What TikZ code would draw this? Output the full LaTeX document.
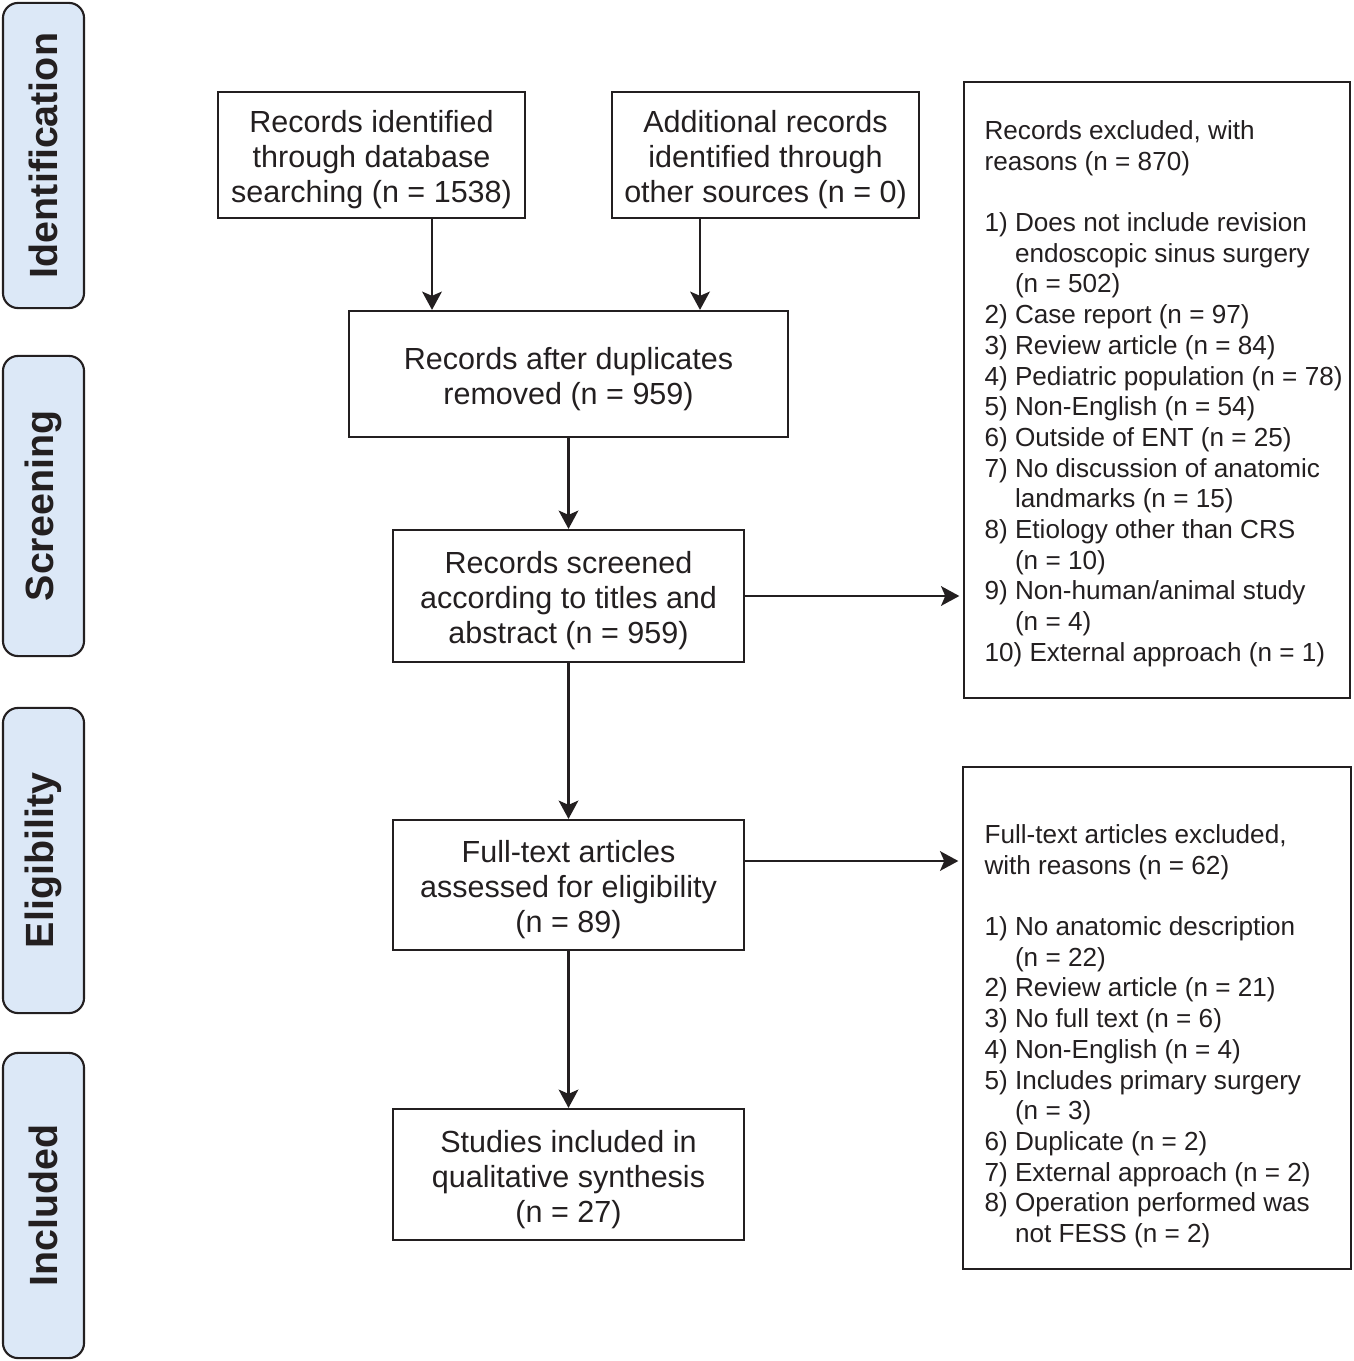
\documentclass[tikz,border=0pt]{standalone}
\usepackage{fontspec}
\setmainfont{Liberation Sans}
\usetikzlibrary{arrows.meta,positioning}
\definecolor{phasefill}{RGB}{220,232,247}
\definecolor{ink}{RGB}{35,31,32}
\newcommand{\topgap}{\rule{0pt}{0.32cm}}
\tikzset{
  flowbox/.style = {draw = ink, line width = 0.6pt, align = center, inner sep = 0pt,
    text = ink, font = \fontsize{8.68}{9.96}\selectfont},
  phasebox/.style = {draw = ink, fill = phasefill, rounded corners = 4.3pt, line width = 0.6pt,
    rotate = 90, minimum height = 0.81cm, text = ink, font = \fontsize{11.2}{13}\selectfont\bfseries},
  reasonbox/.style = {draw = ink, line width = 0.6pt},
  reasontext/.style = {align = left, inner sep = 0pt, anchor = north west,
    text = ink, font = \fontsize{7.43}{8.73}\selectfont},
  arr/.style = {draw = ink, line width = 0.6pt, -{Stealth[length = 5.2pt, width = 5.6pt, inset = 1.2pt]}},
}
\begin{document}
\begin{tikzpicture}[x = 0.01cm, y = -0.01cm]
    \useasboundingbox (0,0) rectangle (1353,1361);
    % phases
    \node[phasebox, minimum width = 3.05cm] (ident) at (43.5,155.5) {Identification};
    \node[phasebox, minimum width = 3.00cm] (screen) at (43.5,506) {Screening};
    \node[phasebox, minimum width = 3.05cm] (elig) at (43.5,860.5) {Eligibility};
    \node[phasebox, minimum width = 3.05cm] (incl) at (43.5,1205.5) {Included};
    % flow
    \node[flowbox, minimum width = 3.07cm, minimum height = 1.26cm] (dbsearch) at (371.5,155)
        {\topgap Records identified\\through database\\searching (n = 1538)};
    \node[flowbox, minimum width = 3.07cm, minimum height = 1.26cm] (othersrc) at (765.5,155)
        {\topgap Additional records\\identified through\\other sources (n = 0)};
    \node[flowbox, minimum width = 4.39cm, minimum height = 1.26cm] (dedup) at (568.5,374)
        {\topgap Records after duplicates\\removed (n = 959)};
    \node[flowbox, minimum width = 3.51cm, minimum height = 1.32cm] (screened) at (568.5,596)
        {\topgap Records screened\\according to titles and\\abstract (n = 959)};
    \node[flowbox, minimum width = 3.51cm, minimum height = 1.30cm] (fulltext) at (568.5,885)
        {\topgap Full-text articles\\assessed for eligibility\\(n = 89)};
    \node[flowbox, minimum width = 3.51cm, minimum height = 1.31cm] (studies) at (568.5,1174.5)
        {\topgap Studies included in\\qualitative synthesis\\(n = 27)};
    % exclusions
    \node[reasonbox, minimum width = 3.86cm, minimum height = 6.16cm] (excl) at (1157,390) {};
    \node[reasontext] (excltext) at ([shift = {(21,39)}]excl.north west)
        {Records excluded, with\\
         reasons (n = 870)\\
         \mbox{}\\
         1) Does not include revision\\
         \hphantom{1) }endoscopic sinus surgery\\
         \hphantom{1) }(n = 502)\\
         2) Case report (n = 97)\\
         3) Review article (n = 84)\\
         4) Pediatric population (n = 78)\\
         5) Non-English (n = 54)\\
         6) Outside of ENT (n = 25)\\
         7) No discussion of anatomic\\
         \hphantom{7) }landmarks (n = 15)\\
         8) Etiology other than CRS\\
         \hphantom{8) }(n = 10)\\
         9) Non-human/animal study\\
         \hphantom{9) }(n = 4)\\
         10) External approach (n = 1)};
    \node[reasonbox, minimum width = 3.88cm, minimum height = 5.02cm] (ftexcl) at (1157,1018) {};
    \node[reasontext] (ftexcltext) at ([shift = {(22,58)}]ftexcl.north west)
        {Full-text articles excluded,\\
         with reasons (n = 62)\\
         \mbox{}\\
         1) No anatomic description\\
         \hphantom{1) }(n = 22)\\
         2) Review article (n = 21)\\
         3) No full text (n = 6)\\
         4) Non-English (n = 4)\\
         5) Includes primary surgery\\
         \hphantom{5) }(n = 3)\\
         6) Duplicate (n = 2)\\
         7) External approach (n = 2)\\
         8) Operation performed was\\
         \hphantom{8) }not FESS (n = 2)};
    % arrows
    \coordinate (dbx) at (432,0);
    \coordinate (osx) at (700,0);
    \coordinate (fty) at (0,861);
    \draw[arr] (dbsearch.south -| dbx) -- (dedup.north -| dbx);
    \draw[arr] (othersrc.south -| osx) -- (dedup.north -| osx);
    \draw[arr] (dedup) -- (screened);
    \draw[arr] (screened) -- (fulltext);
    \draw[arr] (fulltext) -- (studies);
    \draw[arr, shorten > = 1pt] (screened.east) -- (screened.east -| excl.west);
    \draw[arr, shorten > = 1pt] (fulltext.east |- fty) -- (ftexcl.west |- fty);
\end{tikzpicture}
\end{document}
